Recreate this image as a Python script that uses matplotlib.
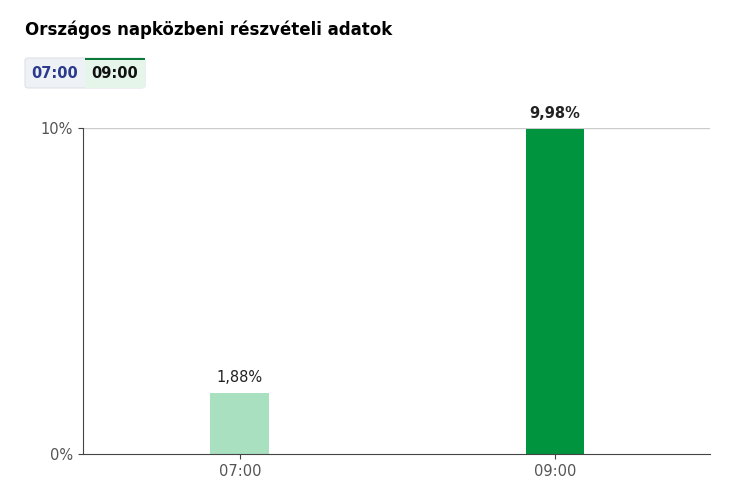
import matplotlib.pyplot as plt
from matplotlib.patches import FancyBboxPatch, Rectangle

categories = ["07:00", "09:00"]
values = [1.88, 9.98]
labels = ["1,88%", "9,98%"]
colors = ["#a8e0c0", "#00943e"]

W, H = 730, 484
fig = plt.figure(figsize=(7.3, 4.84), dpi=100)
ax = fig.add_axes([83/W, 1-454/H, (710-83)/W, (454-128)/H])
x = list(range(len(categories)))
bars = ax.bar(x, values, width=0.187, color=colors)
ax.set_xlim(-0.498, 1.492)
ax.set_ylim(0, 10)
ax.set_yticks([0, 10])
ax.set_yticklabels(["0%", "10%"])
ax.set_xticks(x)
ax.set_xticklabels(categories)
ax.axhline(10, color="#cccccc", lw=1, zorder=0)
for s in ["top", "right"]:
    ax.spines[s].set_visible(False)
for s in ["left", "bottom"]:
    ax.spines[s].set_color("#444444")
ax.tick_params(colors="#444444", labelcolor="#555555", labelsize=10.5)
for i, (v, l) in enumerate(zip(values, labels)):
    ax.text(i, v + 0.25, l, ha="center", va="bottom", fontsize=10.5,
            fontweight="bold" if i == 1 else "normal", color="#222222")

fig.text(25/W, 1-30/H, "Országos napközbeni részvételi adatok", fontsize=12,
         fontweight="bold", va="center", ha="left")
# tabs
fig.patches.append(FancyBboxPatch((25/W, 1-88/H), 120/W, 30/H, boxstyle="round,pad=0,rounding_size=0.005",
                                  transform=fig.transFigure, fc="#eef1f5", ec="#dde2e8", lw=0.8))
fig.patches.append(Rectangle((85/W, 1-88/H), 60/W, 30/H, transform=fig.transFigure,
                             fc="#e6f5ea", ec="none"))
fig.patches.append(Rectangle((85/W, 1-60/H), 60/W, 2.5/H, transform=fig.transFigure,
                             fc="#0a7a3a", ec="none"))
fig.text(55/W, 1-74/H, "07:00", fontsize=10.5, fontweight="bold", color="#2b3a8c", ha="center", va="center")
fig.text(115/W, 1-74/H, "09:00", fontsize=10.5, fontweight="bold", color="#111111", ha="center", va="center")
fig.savefig("out.png", dpi=100)
